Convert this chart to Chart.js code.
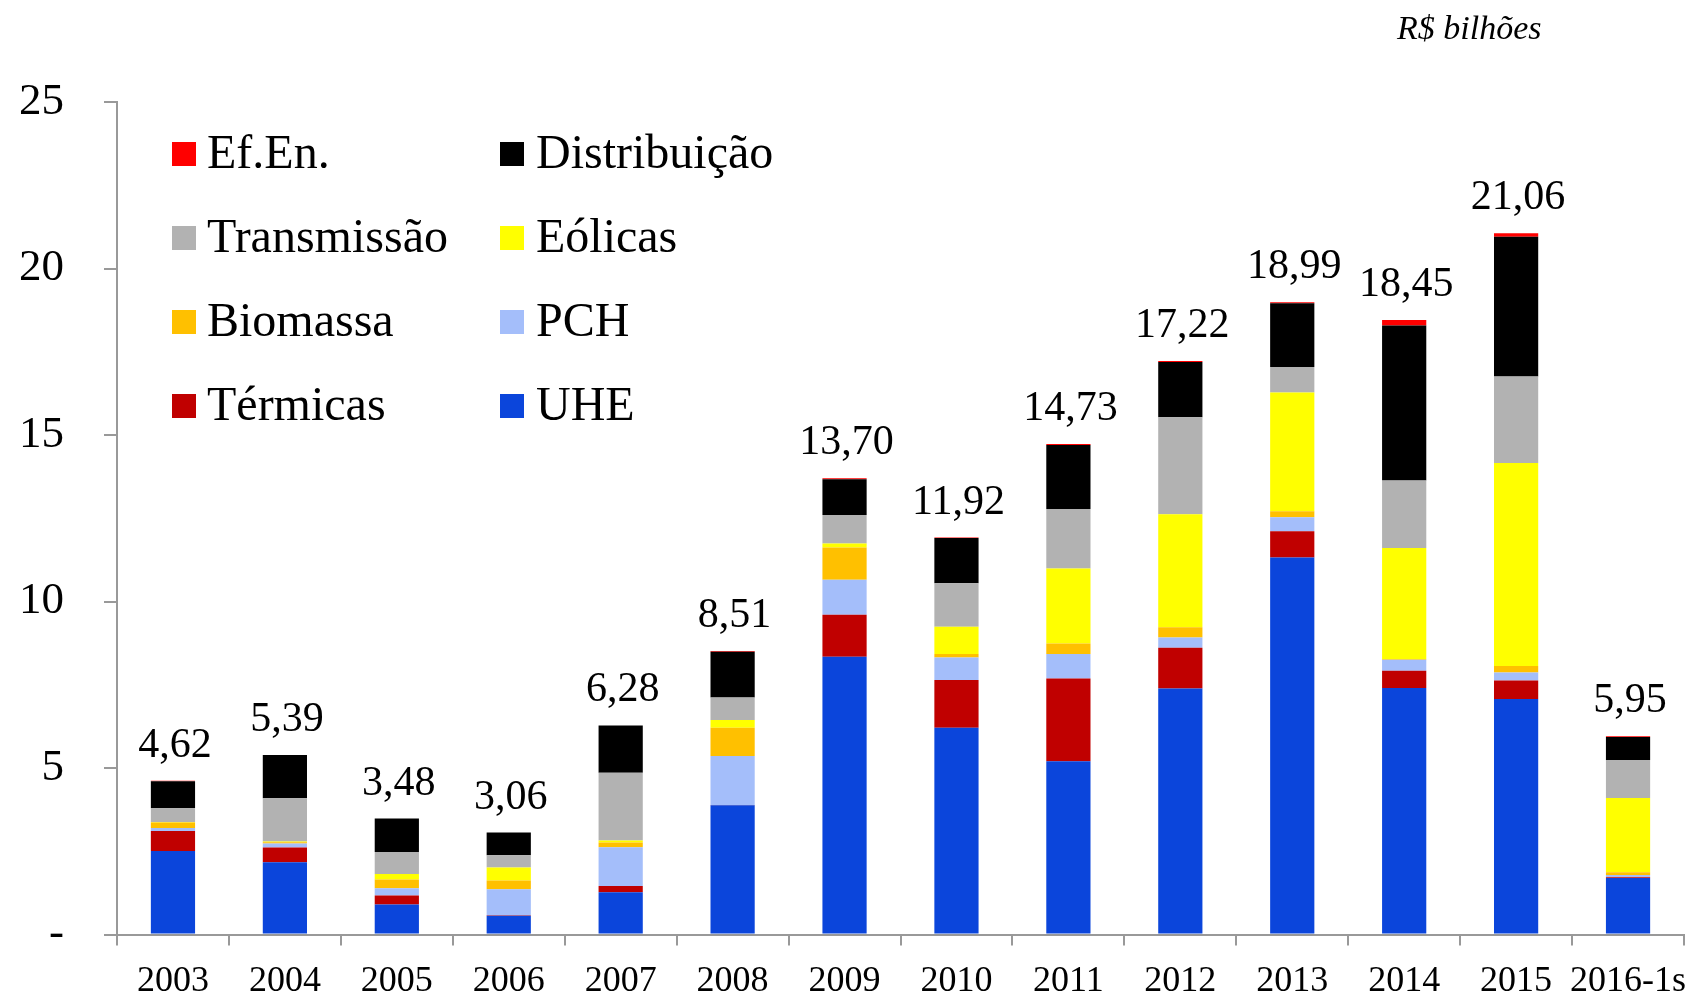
<!DOCTYPE html>
<html>
<head>
<meta charset="utf-8">
<script src="https://cdn.jsdelivr.net/npm/chart.js@4"></script>
<style>
html,body{margin:0;padding:0;background:#fff;}
#wrap{position:relative;width:1690px;height:997px;}
canvas{display:block;}
</style>
</head>
<body>
<div id="wrap"><canvas id="c" width="1690" height="997"></canvas></div>
<script>
const categories = ['2003','2004','2005','2006','2007','2008','2009','2010','2011','2012','2013','2014','2015','2016-1s'];
const uhe          = [2.51, 2.17, 0.90, 0.56, 1.27, 3.88, 8.34, 6.21, 5.20, 7.39, 11.32, 7.40, 7.07, 1.70];
const termicas     = [0.60, 0.44, 0.27, 0.02, 0.19, 0.01, 1.26, 1.43, 2.49, 1.22, 0.79, 0.52, 0.56, 0.02];
const pch          = [0.09, 0.12, 0.22, 0.78, 1.16, 1.47, 1.05, 0.68, 0.73, 0.31, 0.42, 0.33, 0.24, 0.07];
const biomassa     = [0.16, 0.04, 0.26, 0.26, 0.14, 0.85, 0.97, 0.10, 0.32, 0.31, 0.18, 0.02, 0.19, 0.08];
const eolicas      = [0.02, 0.02, 0.17, 0.39, 0.06, 0.23, 0.12, 0.82, 2.25, 3.39, 3.57, 3.34, 6.10, 2.23];
const transmissao  = [0.41, 1.30, 0.66, 0.37, 2.04, 0.68, 0.86, 1.31, 1.79, 2.91, 0.76, 2.02, 2.60, 1.14];
const distribuicao = [0.81, 1.30, 1.00, 0.68, 1.42, 1.37, 1.07, 1.36, 1.92, 1.66, 1.92, 4.66, 4.19, 0.69];
const efEn         = [0.02, 0.00, 0.00, 0.00, 0.00, 0.02, 0.03, 0.01, 0.03, 0.03, 0.03, 0.16, 0.11, 0.02];
const totals       = [4.62, 5.39, 3.48, 3.06, 6.28, 8.51, 13.70, 11.92, 14.73, 17.22, 18.99, 18.45, 21.06, 5.95];
const yTicks       = [0, 5, 10, 15, 20, 25];
const unitLabel    = 'R$ bilhões';

const seriesDefs = [
  {label:'UHE', data:uhe, color:'#0B45DB'},
  {label:'Térmicas', data:termicas, color:'#C00000'},
  {label:'PCH', data:pch, color:'#A4BEFA'},
  {label:'Biomassa', data:biomassa, color:'#FFC000'},
  {label:'Eólicas', data:eolicas, color:'#FFFF00'},
  {label:'Transmissão', data:transmissao, color:'#B2B2B2'},
  {label:'Distribuição', data:distribuicao, color:'#000000'},
  {label:'Ef.En.', data:efEn, color:'#FF0000'}
];

const SERIF = '"Liberation Serif", "Times New Roman", serif';

const datasets = seriesDefs.map(s => ({
  label: s.label,
  data: s.data,
  backgroundColor: s.color,
  borderWidth: 0,
  barPercentage: 0.395,
  categoryPercentage: 1.0
}));

const labelsPlugin = {
  id: 'extras',
  afterDraw(chart) {
    const ctx = chart.ctx;
    const xs = chart.scales.x, ys = chart.scales.y;
    ctx.save();
    ctx.fillStyle = '#000';
    ctx.font = '42px ' + SERIF;
    ctx.textAlign = 'center';
    ctx.textBaseline = 'alphabetic';
    totals.forEach((t, i) => {
      const x = xs.getPixelForValue(i);
      const y = ys.getPixelForValue(t);
      ctx.fillText(t.toFixed(2).replace('.', ','), x + 2, y - 24);
    });
    ctx.font = 'italic 34px ' + SERIF;
    ctx.textAlign = 'left';
    ctx.textBaseline = 'middle';
    ctx.fillText(unitLabel, 1397, 30);
    const order = seriesDefs.slice().reverse();
    const colBox = [172, 500];
    const colText = [207, 536];
    const rowY = [154, 238, 322, 406];
    ctx.font = '48px ' + SERIF;
    order.forEach((s, k) => {
      const col = k % 2, row = Math.floor(k / 2);
      ctx.fillStyle = s.color;
      ctx.fillRect(colBox[col], rowY[row] - 12, 24, 24);
      ctx.fillStyle = '#000';
      ctx.fillText(s.label, colText[col], rowY[row] + 1);
    });
    ctx.restore();
  }
};

new Chart(document.getElementById('c'), {
  type: 'bar',
  data: { labels: categories, datasets },
  options: {
    responsive: false,
    devicePixelRatio: 1,
    animation: false,
    layout: { padding: { top: 102, right: 6, left: 0, bottom: 0 } },
    plugins: { legend: { display: false }, tooltip: { enabled: false }, title: { display: false } },
    scales: {
      x: {
        stacked: true,
        offset: true,
        grid: { display: true, drawOnChartArea: false, drawTicks: true, tickLength: 11, color: '#999', lineWidth: 2, offset: true },
        border: { display: true, color: '#999', width: 2 },
        ticks: { color: '#000', font: { family: SERIF, size: 36, lineHeight: 1 }, padding: 18, maxRotation: 0, autoSkip: false },
        afterFit(scale) { scale.height = 62; scale.paddingRight = 0; scale.paddingLeft = 0; }
      },
      y: {
        stacked: true,
        min: 0, max: 25,
        afterBuildTicks(scale) { scale.ticks = yTicks.map(v => ({ value: v })); },
        grid: { display: true, drawOnChartArea: false, drawTicks: true, tickLength: 13, color: '#999', lineWidth: 2 },
        border: { display: true, color: '#999', width: 2 },
        ticks: { color: '#000', font: { family: SERIF, size: 45, lineHeight: 1 }, padding: 40,
          callback: v => v === 0 ? '-' : String(v) },
        afterFit(scale) { scale.width = 117; }
      }
    }
  },
  plugins: [labelsPlugin]
});
</script>
</body>
</html>
